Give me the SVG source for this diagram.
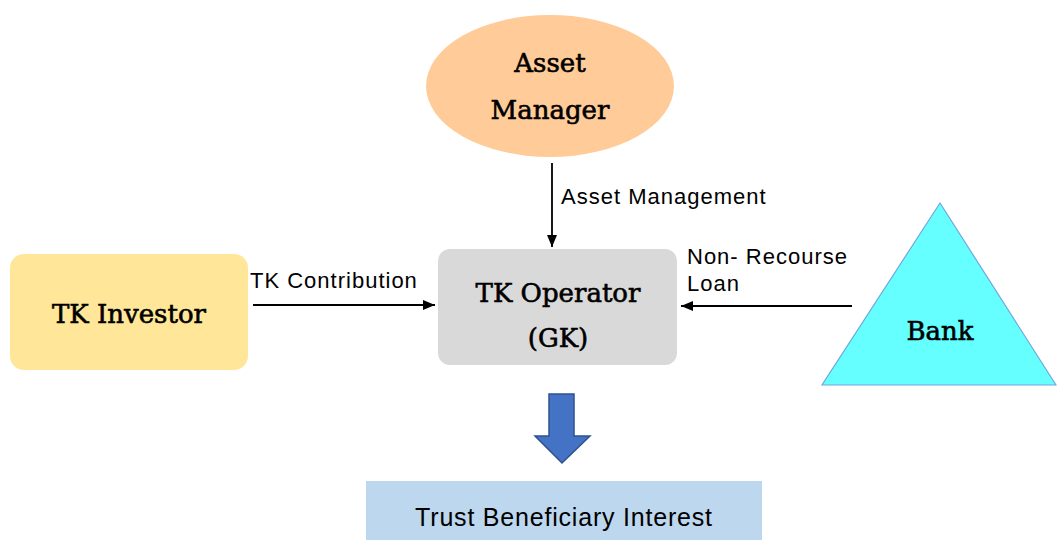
<svg xmlns="http://www.w3.org/2000/svg" width="1057" height="540" viewBox="0 0 1057 540">
  <defs>
    <marker id="arrowhead" viewBox="0 0 12 10" refX="12" refY="5" markerWidth="12" markerHeight="10" markerUnits="userSpaceOnUse" orient="auto">
      <path d="M0,0 L12,5 L0,10 Z" fill="#000"/>
    </marker>
    <style>
      .node-title { font-family: "DejaVu Serif", "Liberation Serif", serif; font-size: 26px; fill: #000; stroke: #000; stroke-width: 0.6px; text-anchor: middle; }
      .edge-label { font-family: "Liberation Sans", Arial, sans-serif; font-size: 22px; fill: #000; letter-spacing: 1px; }
      .edge { stroke: #000; stroke-width: 1.8; fill: none; marker-end: url(#arrowhead); }
    </style>
  </defs>
  <rect width="1057" height="540" fill="#fff"/>

  <g id="asset-manager">
    <ellipse cx="550" cy="86" rx="124" ry="71" fill="#ffcc99"/>
    <text class="node-title" x="550" y="72">Asset</text>
    <text class="node-title" x="550" y="119">Manager</text>
  </g>

  <g id="tk-investor">
    <rect x="10" y="254" width="238" height="116" rx="14" fill="#ffe699"/>
    <text class="node-title" x="129" y="323">TK Investor</text>
  </g>

  <g id="tk-operator">
    <rect x="438" y="249" width="239" height="116" rx="12" fill="#d9d9d9"/>
    <text class="node-title" x="558" y="302">TK Operator</text>
    <text class="node-title" x="558" y="347">(GK)</text>
  </g>

  <g id="bank">
    <polygon points="940,203 1056,385 822,385" fill="#66ffff" stroke="#6fa8dc" stroke-width="1.2"/>
    <text class="node-title" x="940" y="340">Bank</text>
  </g>

  <g id="trust-beneficiary-interest">
    <rect x="366" y="481" width="396" height="59" fill="#bdd7ee"/>
    <text x="564" y="526" font-family="Liberation Sans, Arial, sans-serif" font-size="25" letter-spacing="0.8" text-anchor="middle" fill="#000">Trust Beneficiary Interest</text>
  </g>

  <g id="connectors">
    <line class="edge" x1="552" y1="163" x2="552" y2="247"/>
    <text class="edge-label" x="561" y="204">Asset Management</text>
    <line class="edge" x1="253" y1="305" x2="435" y2="305"/>
    <text class="edge-label" x="250" y="288">TK Contribution</text>
    <line class="edge" x1="852" y1="306" x2="681" y2="306"/>
    <text class="edge-label" x="687" y="264">Non- Recourse</text>
    <text class="edge-label" x="687" y="291">Loan</text>
    <path d="M549,394 L574,394 L574,436 L590,436 L562,463 L535,436 L549,436 Z" fill="#4472c4" stroke="#2f528f" stroke-width="1.5"/>
  </g>
</svg>
